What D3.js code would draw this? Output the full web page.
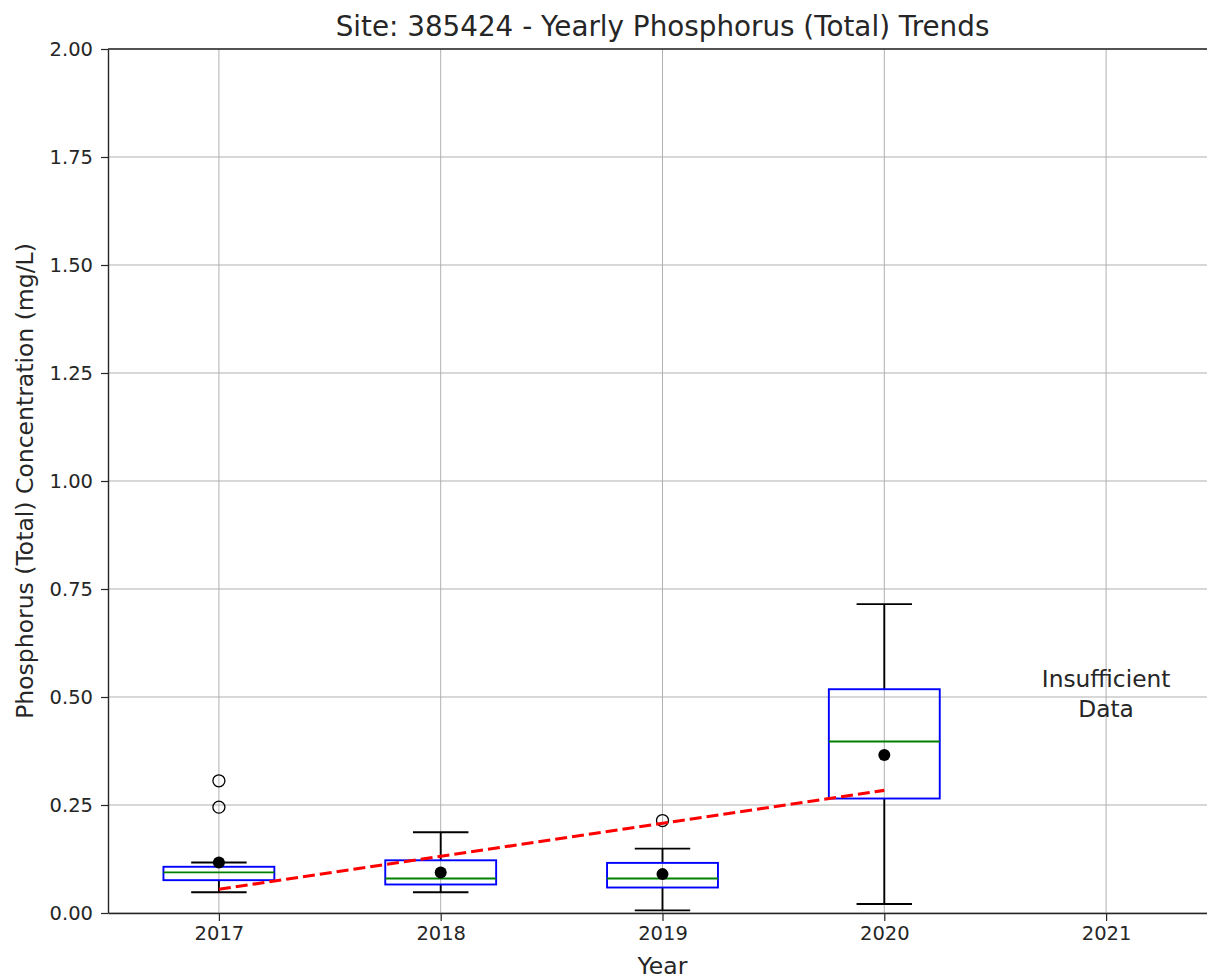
<!DOCTYPE html>
<html>
<head>
<meta charset="utf-8">
<script src="https://cdn.jsdelivr.net/npm/d3@7"></script>
<style>
  body { margin: 0; background: #fff; }
  text { font-family: "DejaVu Sans", sans-serif; fill: #262626; }
</style>
</head>
<body>
<div id="chart"></div>
<script>
// yearly box stats (mg/L)
var years = ["2017", "2018", "2019", "2020", "2021"];
var whiskLow = [0.048, 0.048, 0.006, 0.021];
var q1 = [0.076, 0.066, 0.059, 0.265];
var medians = [0.094, 0.080, 0.080, 0.397];
var q3 = [0.107, 0.122, 0.116, 0.518];
var whiskHigh = [0.117, 0.187, 0.149, 0.715];
var means = [0.117, 0.094, 0.090, 0.366];
var outliers = [[0.245, 0.306], [], [0.214], []];
var trendYears = [1, 4];
var trendValues = [0.055, 0.284];
var yTicks = [0, 0.25, 0.5, 0.75, 1.0, 1.25, 1.5, 1.75, 2.0];

var width = 1207, height = 979;
var margin = {top: 49, left: 108, bottom: 66};
var plotRight = 1217;

var svg = d3.select("#chart")
  .append("svg")
    .attr("width", width)
    .attr("height", height);

var x = d3.scaleLinear()
    .domain([0.5, years.length + 0.5])
    .range([margin.left, plotRight]);
var y = d3.scaleLinear()
    .domain([0, 2])
    .range([height - margin.bottom, margin.top]);

// grid
svg.append("g").selectAll("line")
  .data(years)
  .enter().append("line")
    .attr("x1", function(d, i) { return x(i + 1); })
    .attr("x2", function(d, i) { return x(i + 1); })
    .attr("y1", y(0)).attr("y2", y(2))
    .attr("stroke", "#b0b0b0").attr("stroke-width", 1);
svg.append("g").selectAll("line")
  .data(yTicks)
  .enter().append("line")
    .attr("x1", x(0.5)).attr("x2", x(years.length + 0.5))
    .attr("y1", function(d) { return y(d); })
    .attr("y2", function(d) { return y(d); })
    .attr("stroke", "#b0b0b0").attr("stroke-width", 1);

// axes
var xAxis = svg.append("g")
    .attr("transform", "translate(0," + y(0) + ")")
    .call(d3.axisBottom(x).tickValues(d3.range(1, years.length + 1))
      .tickFormat(function(d) { return years[d - 1]; })
      .tickSize(8).tickPadding(5).tickSizeOuter(0));
var yAxis = svg.append("g")
    .attr("transform", "translate(" + margin.left + ",0)")
    .call(d3.axisLeft(y).tickValues(yTicks).tickFormat(d3.format(".2f"))
      .tickSize(7).tickPadding(8).tickSizeOuter(0));
[xAxis, yAxis].forEach(function(a) {
  a.selectAll("text").style("font-size", "19.5px").attr("fill", "#262626");
  a.selectAll("line").attr("stroke", "#262626").attr("stroke-width", 1.2);
  a.select(".domain").attr("stroke", "#262626").attr("stroke-width", 1.4);
});
// top spine
svg.append("line")
    .attr("x1", x(0.5)).attr("x2", x(years.length + 0.5))
    .attr("y1", y(2)).attr("y2", y(2))
    .attr("stroke", "#262626").attr("stroke-width", 1.4);

var boxW = 0.5, capW = 0.25;
var g = svg.append("g");
var boxes = g.selectAll(".box")
  .data(q1)
  .enter().append("g").attr("class", "box");

// whiskers
boxes.append("line")
    .attr("x1", function(d, i) { return x(i + 1); })
    .attr("x2", function(d, i) { return x(i + 1); })
    .attr("y1", function(d, i) { return y(q3[i]); })
    .attr("y2", function(d, i) { return y(whiskHigh[i]); })
    .attr("stroke", "black").attr("stroke-width", 1.9);
boxes.append("line")
    .attr("x1", function(d, i) { return x(i + 1); })
    .attr("x2", function(d, i) { return x(i + 1); })
    .attr("y1", function(d, i) { return y(q1[i]); })
    .attr("y2", function(d, i) { return y(whiskLow[i]); })
    .attr("stroke", "black").attr("stroke-width", 1.9);
// caps
boxes.append("line")
    .attr("x1", function(d, i) { return x(i + 1 - capW / 2); })
    .attr("x2", function(d, i) { return x(i + 1 + capW / 2); })
    .attr("y1", function(d, i) { return y(whiskHigh[i]); })
    .attr("y2", function(d, i) { return y(whiskHigh[i]); })
    .attr("stroke", "black").attr("stroke-width", 1.9);
boxes.append("line")
    .attr("x1", function(d, i) { return x(i + 1 - capW / 2); })
    .attr("x2", function(d, i) { return x(i + 1 + capW / 2); })
    .attr("y1", function(d, i) { return y(whiskLow[i]); })
    .attr("y2", function(d, i) { return y(whiskLow[i]); })
    .attr("stroke", "black").attr("stroke-width", 1.9);
// box
boxes.append("rect")
    .attr("x", function(d, i) { return x(i + 1 - boxW / 2); })
    .attr("width", function(d, i) { return x(i + 1 + boxW / 2) - x(i + 1 - boxW / 2); })
    .attr("y", function(d, i) { return y(q3[i]); })
    .attr("height", function(d, i) { return y(q1[i]) - y(q3[i]); })
    .attr("fill", "none").attr("stroke", "blue").attr("stroke-width", 1.9);
// median
boxes.append("line")
    .attr("x1", function(d, i) { return x(i + 1 - boxW / 2); })
    .attr("x2", function(d, i) { return x(i + 1 + boxW / 2); })
    .attr("y1", function(d, i) { return y(medians[i]); })
    .attr("y2", function(d, i) { return y(medians[i]); })
    .attr("stroke", "green").attr("stroke-width", 1.9);
// outliers
boxes.each(function(d, i) {
  d3.select(this).selectAll(".flier")
    .data(outliers[i])
    .enter().append("circle")
      .attr("class", "flier")
      .attr("cx", x(i + 1))
      .attr("cy", function(v) { return y(v); })
      .attr("r", 6)
      .attr("fill", "none").attr("stroke", "black").attr("stroke-width", 1.3);
});

// trend line
var line = d3.line()
    .x(function(d) { return x(d[0]); })
    .y(function(d) { return y(d[1]); });
g.append("path")
    .datum(d3.zip(trendYears, trendValues))
    .attr("d", line)
    .attr("fill", "none")
    .attr("stroke", "red").attr("stroke-width", 3.2)
    .attr("stroke-dasharray", "12,5");

// means
g.selectAll(".mean")
  .data(means)
  .enter().append("circle")
    .attr("cx", function(d, i) { return x(i + 1); })
    .attr("cy", function(d) { return y(d); })
    .attr("r", 6)
    .attr("fill", "black");

// insufficient data label
var note = svg.append("text")
    .attr("x", x(5))
    .attr("y", 687)
    .attr("text-anchor", "middle")
    .style("font-size", "23.3px");
note.append("tspan").attr("x", x(5)).attr("dy", 0).text("Insufficient");
note.append("tspan").attr("x", x(5)).attr("dy", 29.5).text("Data");

// titles
var midX = (x(0.5) + x(years.length + 0.5)) / 2;
svg.append("text")
    .attr("x", midX)
    .attr("y", 36)
    .attr("text-anchor", "middle")
    .style("font-size", "27.8px")
    .text("Site: 385424 - Yearly Phosphorus (Total) Trends");
svg.append("text")
    .attr("x", midX)
    .attr("y", 974)
    .attr("text-anchor", "middle")
    .style("font-size", "23.5px")
    .text("Year");
svg.append("text")
    .attr("transform", "translate(33," + (y(0) + y(2)) / 2 + ") rotate(-90)")
    .attr("text-anchor", "middle")
    .style("font-size", "23.5px")
    .text("Phosphorus (Total) Concentration (mg/L)");
</script>
</body>
</html>
